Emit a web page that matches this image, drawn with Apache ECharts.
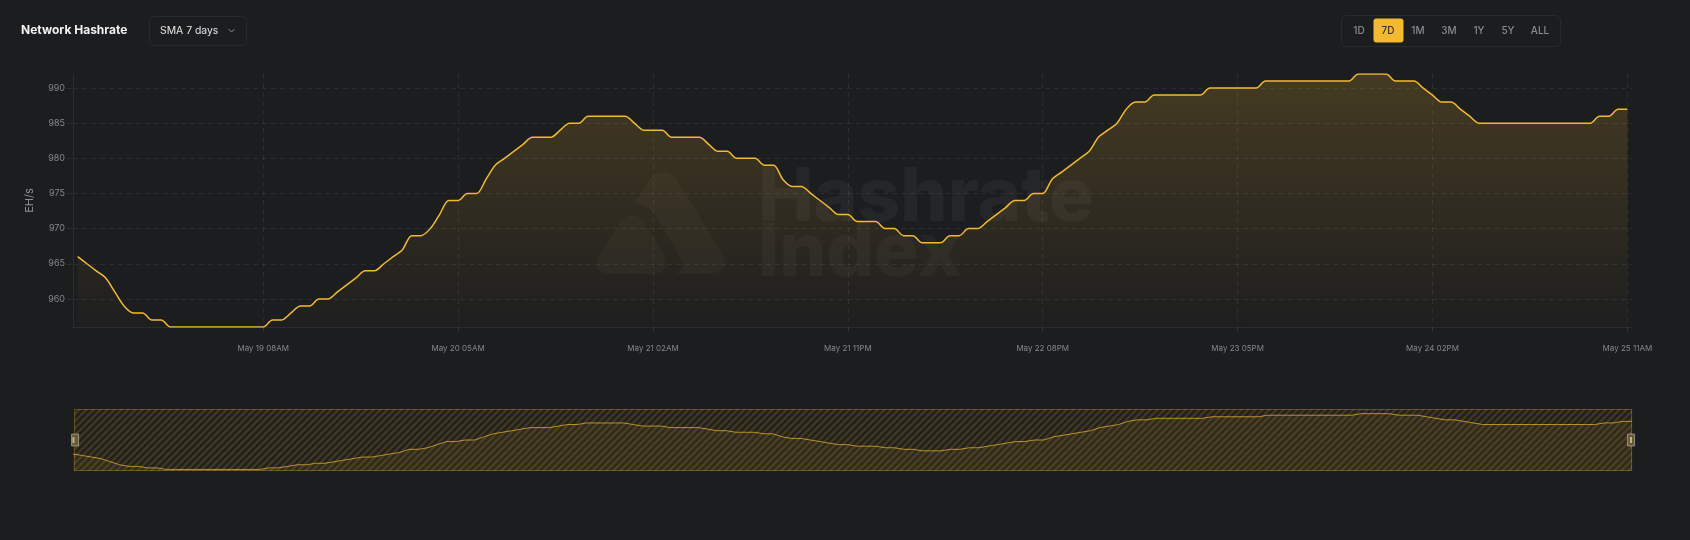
<!DOCTYPE html>
<html><head><meta charset="utf-8">
<style>html,body{margin:0;padding:0;background:#1c1d1f}#c{width:1690px;height:540px}</style>
<script src="https://cdn.jsdelivr.net/npm/echarts@6/dist/echarts.min.js"></script>
</head><body><div id="c"></div>
<script>
const hashrate = [
966,965,964,963,961,959,958,958,957,957,
956,956,956,956,956,956,956,956,956,956,956,
957,957,958,959,959,960,960,961,962,963,964,964,965,966,967,969,969,
970,972,974,974,975,975,977,979,980,981,982,983,983,983,984,985,985,
986,986,986,986,986,985,984,984,984,983,983,983,983,982,981,981,980,980,980,
979,979,977,976,976,975,974,973,972,972,
971,971,971,970,970,969,969,968,968,968,969,969,970,970,971,972,973,974,974,975,975,
977,978,979,980,981,983,984,985,987,988,988,
989,989,989,989,989,989,990,990,990,990,990,990,
991,991,991,991,991,991,991,991,991,991,
992,992,992,992,991,991,991,990,989,988,988,987,986,
985,985,985,985,985,985,985,985,985,985,985,985,985,
986,986,987,987];
const days = ['May 18','May 19','May 20','May 21','May 22','May 23','May 24','May 25'];
const hours = ['12AM','01AM','02AM','03AM','04AM','05AM','06AM','07AM','08AM','09AM','10AM','11AM','12PM','01PM','02PM','03PM','04PM','05PM','06PM','07PM','08PM','09PM','10PM','11PM'];
const categories = hashrate.map((_, i) => { const h = i + 12; return days[Math.floor(h / 24)] + ' ' + hours[h % 24]; });
const yTicks = [960,965,970,975,980,985,990];
const rangeButtons = ['1D','7D','1M','3M','1Y','5Y','ALL'];
const yAxisName = 'EH/s';
const titleText = 'Network Hashrate';
const selectText = 'SMA 7 days';

const gold = '#f3ba2f';
const isTick = i => (i - 20) % 21 === 0;

// The slider flips its group vertically, so the tile is drawn mirrored to show "/" stripes.
const P = 7;
const tile = document.createElement('canvas');
tile.width = P; tile.height = P;
const t = tile.getContext('2d');
t.fillStyle = 'rgba(243,186,47,0.02)'; t.fillRect(0,0,P,P);
t.strokeStyle = 'rgba(243,186,47,0.16)'; t.lineWidth = 2.4;
[[-P,0,P,2*P],[0,0,P,P],[0,-P,2*P,P]].forEach(s => { t.beginPath(); t.moveTo(s[0],s[1]); t.lineTo(s[2],s[3]); t.stroke(); });

echarts.graphic.registerShape('wmSmall', echarts.graphic.extendShape({
  shape:{},
  buildPath(c){
    c.moveTo(621,221); c.quadraticCurveTo(632,210,643,221); c.lineTo(664,254);
    c.quadraticCurveTo(672,272,652,274); c.lineTo(609,274); c.quadraticCurveTo(590,272,600,254); c.closePath();
  }
}));
echarts.graphic.registerShape('wmBig', echarts.graphic.extendShape({
  shape:{},
  buildPath(c){
    c.moveTo(634,203); c.lineTo(651,178); c.quadraticCurveTo(663,166,676,178); c.lineTo(723,255);
    c.quadraticCurveTo(731,272,710,274); c.lineTo(677,274); c.quadraticCurveTo(685,268,682,261);
    c.lineTo(656,216); c.quadraticCurveTo(647,203,634,203); c.closePath();
  }
}));

const btnX = [1359,1388,1418,1449,1479,1508,1540];
const graphics = [
  {type:'text',x:21,y:30,style:{text:titleText,fill:'#f2f2f2',font:'700 12px Inter',verticalAlign:'middle'}},
  {type:'rect',shape:{x:149.5,y:16.5,width:97,height:29,r:5},style:{fill:'transparent',stroke:'#292a2d',lineWidth:1}},
  {type:'text',x:160,y:31,style:{text:selectText,fill:'#e6e6e6',font:'400 10.4px Inter',verticalAlign:'middle'}},
  {type:'polyline',shape:{points:[[228.5,29],[231.5,32],[234.5,29]]},style:{stroke:'#8a8c90',lineWidth:1,fill:'none'}},
  {type:'rect',shape:{x:1341.5,y:15.5,width:219,height:31,r:5},style:{fill:'transparent',stroke:'#292a2d',lineWidth:1}},
  {type:'rect',shape:{x:1373.5,y:18.5,width:30,height:24,r:3},style:{fill:gold}},
  ...rangeButtons.map((b,i)=>({type:'text',x:btnX[i],y:31,style:{text:b,fill:i===1?'#3a3320':'#878a90',font:'500 10px Inter',align:'center',verticalAlign:'middle'}})),
  {type:'wmSmall',silent:true,z:1,style:{fill:'rgba(255,225,150,0.03)'}},
  {type:'wmBig',silent:true,z:1,style:{fill:'rgba(255,225,150,0.03)'}},
  {type:'text',silent:true,x:758,y:199,z:1,style:{text:'Hashrate',fill:'rgba(255,255,255,0.045)',font:'800 74.5px Inter',verticalAlign:'middle'}},
  {type:'text',silent:true,x:758,y:254,z:1,style:{text:'Index',fill:'rgba(255,255,255,0.035)',font:'800 74.5px Inter',verticalAlign:'middle'}},
  {type:'rect',silent:true,z:20,shape:{x:72.5,y:437,width:2,height:6},style:{fill:'rgba(230,215,170,0.7)'}},
  {type:'rect',silent:true,z:20,shape:{x:1630,y:437,width:2,height:6},style:{fill:'rgba(230,215,170,0.7)'}}
];

const chart = echarts.init(document.getElementById('c'), null, {renderer:'canvas'});
chart.setOption({
  animation:false,
  backgroundColor:'#1c1d1f',
  textStyle:{fontFamily:'Inter'},
  graphic:graphics,
  grid:[
    {left:73,right:58,top:74,height:253},
    {left:73,right:58,top:409,height:62}
  ],
  xAxis:[
    {type:'category',data:categories,boundaryGap:true,
      axisLine:{lineStyle:{color:'#2b2c2f',width:1}},
      axisTick:{show:true,alignWithLabel:true,interval:isTick,length:6,lineStyle:{color:'#333437',type:'dashed'}},
      axisLabel:{show:true,interval:isTick,hideOverlap:false,color:'#85878c',fontSize:8,fontFamily:'Inter',margin:18},
      splitLine:{show:true,alignWithLabel:true,interval:isTick,lineStyle:{color:'rgba(255,255,255,0.07)',type:[5,4]}}
    },
    {gridIndex:1,type:'category',data:categories,boundaryGap:false,show:false}
  ],
  yAxis:[
    {type:'value',min:956,max:992,name:yAxisName,nameLocation:'middle',nameGap:38,nameRotate:90,
      nameTextStyle:{color:'#8f9195',fontSize:11,fontFamily:'Inter'},
      axisLine:{show:true,lineStyle:{color:'#2b2c2f'}},
      axisTick:{show:true,length:6,customValues:yTicks,lineStyle:{color:'#2b2c2f'}},
      axisLabel:{color:'#85878c',fontSize:9,fontFamily:'Inter',margin:8,customValues:yTicks},
      splitLine:{show:true,lineStyle:{color:'rgba(255,255,255,0.07)',type:[5,4]}}
    },
    {gridIndex:1,type:'value',min:955,max:995,show:false,splitLine:{show:false}}
  ],
  dataZoom:[{
    type:'slider',xAxisIndex:0,left:73,width:1558,top:409,height:62,start:0,end:100,
    showDetail:false,showDataShadow:false,brushSelect:false,
    moveHandleSize:0,
    backgroundColor:'transparent',
    borderColor:'rgba(243,186,47,0.3)',
    fillerColor:{image:tile,repeat:'repeat'},
    handleIcon:'path://M0 0H7V12H0Z',handleSize:12,
    handleStyle:{color:'#6a5a33',borderColor:'rgba(205,205,200,0.55)',borderWidth:1}
  }],
  series:[
    {type:'line',name:'Network Hashrate',data:hashrate,smooth:0.3,symbol:'none',
      lineStyle:{color:gold,width:1.5},
      areaStyle:{color:new echarts.graphic.LinearGradient(0,0,0,1,[{offset:0,color:'rgba(243,186,47,0.27)'},{offset:1,color:'rgba(243,186,47,0.01)'}])},
      z:3},
    {type:'line',xAxisIndex:1,yAxisIndex:1,data:hashrate,symbol:'none',silent:true,
      lineStyle:{color:'rgba(243,186,47,0.7)',width:1},
      areaStyle:{color:'rgba(243,186,47,0.1)'}}
  ]
});
</script></body></html>
